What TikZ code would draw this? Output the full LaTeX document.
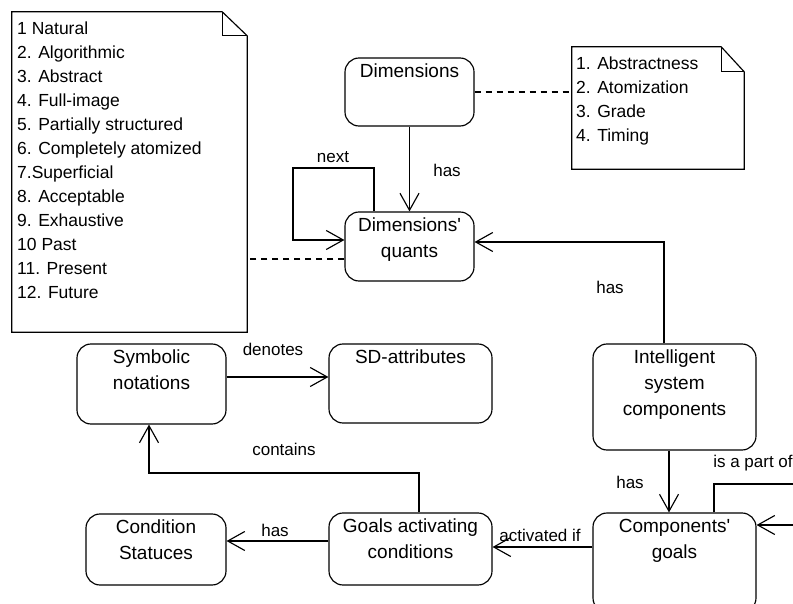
\documentclass[tikz,border=0pt]{standalone}
\usepackage{fontspec}
\setmainfont{Liberation Sans}
\usetikzlibrary{arrows.meta}
\begin{document}
\begin{tikzpicture}[x=1pt,y=-1pt,
  box/.style={draw, rounded corners=14pt, line width=1.15pt, inner sep=0pt},
  btxt/.style={font=\fontsize{19}{26}\selectfont, align=center, inner sep=0pt, anchor=north},
  ntxt/.style={font=\fontsize{17.5}{24}\selectfont, align=left, inner sep=0pt, anchor=north west},
  lbl/.style={font=\fontsize{17}{20}\selectfont, inner sep=0pt},
  conn/.style={line width=1.15pt},
  arr/.style={conn, -{Straight Barb[length=17pt,width=19pt]}},
  dashline/.style={line width=1.1pt, dash pattern=on 6pt off 5pt},
  notebox/.style={inner sep=0pt}
]
\useasboundingbox (0,0) rectangle (793,604);
\clip (0,0) rectangle (793,604);

% notes
\node[notebox, minimum width=235pt, minimum height=320pt] (note1) at (129.5,172) {};
\draw[conn] (note1.north west) -- ([xshift=-25pt]note1.north east) -- ([yshift=-24pt]note1.north east) -- (note1.south east) -- (note1.south west) -- cycle;
\draw[conn] ([xshift=-25pt]note1.north east) -- ([xshift=-25pt,yshift=-24pt]note1.north east) -- ([yshift=-24pt]note1.north east);
\node[ntxt] (note1T) at (17,21.5) {1 Natural\\2. Algorithmic\\3. Abstract\\4. Full-image\\5. Partially structured\\6. Completely atomized\\7.Superficial\\8. Acceptable\\9. Exhaustive\\10 Past\\11. Present\\12. Future};

\node[notebox, minimum width=172pt, minimum height=122pt] (note2) at (658,108) {};
\draw[conn] (note2.north west) -- ([xshift=-23pt]note2.north east) -- ([yshift=-25pt]note2.north east) -- (note2.south east) -- (note2.south west) -- cycle;
\draw[conn] ([xshift=-23pt]note2.north east) -- ([xshift=-23pt,yshift=-25pt]note2.north east) -- ([yshift=-25pt]note2.north east);
\node[ntxt] (note2T) at (576,56.5) {1. Abstractness\\2. Atomization\\3. Grade\\4. Timing};

% boxes
\node[box, minimum width=129pt, minimum height=68pt] (dim) at (409.5,92) {};
\node[btxt] at ([yshift=-6.5pt]dim.north) {Dimensions};
\node[box, minimum width=129pt, minimum height=69pt] (quants) at (409.5,246.5) {};
\node[btxt] at ([yshift=-6.5pt]quants.north) {Dimensions\textquotesingle\\quants};
\node[box, minimum width=163pt, minimum height=106pt] (isc) at (674.5,397) {};
\node[btxt] at ([yshift=-6.5pt]isc.north) {Intelligent\\system\\components};
\node[box, minimum width=163pt, minimum height=99pt] (cg) at (674.5,562.5) {};
\node[btxt] at ([yshift=-6.5pt]cg.north) {Components\textquotesingle\\goals};
\node[box, minimum width=163pt, minimum height=72pt] (gac) at (410.5,549) {};
\node[btxt] at ([yshift=-6.5pt]gac.north) {Goals activating\\conditions};
\node[box, minimum width=140pt, minimum height=71pt] (cs) at (156,549.5) {};
\node[btxt] at ([yshift=-6.5pt]cs.north) {Condition\\Statuces};
\node[box, minimum width=149pt, minimum height=80pt] (sn) at (151.5,384) {};
\node[btxt] at ([yshift=-6.5pt]sn.north) {Symbolic\\notations};
\node[box, minimum width=163pt, minimum height=79pt] (sd) at (410.5,383.5) {};
\node[btxt] at ([yshift=-6.5pt]sd.north) {SD-attributes};

% dashed links to notes
\draw[dashline] (dim.east) -- (note2.west |- dim.east);
\draw[dashline] (quants.west |- 0,259) -- (note1.east |- 0,259);

% connectors
\draw[arr] (dim.south) -- (quants.north);
\node[lbl] at (447,170) {has};

\coordinate (nx) at ([xshift=-35.5pt]quants.north);
\draw[arr] (nx) -- (nx |- 0,168) -- (293,168) -- (293,240) -- (quants.west |- 0,240);
\node[lbl] at (333,157) {next};

\coordinate (ia) at ([xshift=-10.5pt]isc.north);
\draw[arr] (ia) -- (ia |- 0,242) -- (quants.east |- 0,242);
\node[lbl] at (610,287) {has};

\draw[arr] ([xshift=-5.5pt]isc.south) -- ([xshift=-5.5pt]cg.north);
\node[lbl] at (630,482) {has};

\coordinate (pa) at ([xshift=39.5pt]cg.north);
\draw[arr] (pa) -- (pa |- 0,484) -- (810,484) -- (810,525) -- (cg.east |- 0,525);
\node[lbl] at (753,463) {is a part of};

\draw[arr] (cg.west |- 0,547) -- (gac.east |- 0,547);
\node[lbl] at (540,535) {activated if};

\draw[arr] (gac.west |- 0,541) -- (cs.east |- 0,541);
\node[lbl] at (275,530) {has};

\draw[arr] (sn.east |- 0,377) -- (sd.west |- 0,377);
\node[lbl] at (273,349) {denotes};

\coordinate (ca) at ([xshift=8.5pt]gac.north);
\draw[arr] (ca) -- (ca |- 0,473) -- (149,473) -- (149,0 |- sn.south);
\node[lbl] at (284,449) {contains};
\end{tikzpicture}
\end{document}
